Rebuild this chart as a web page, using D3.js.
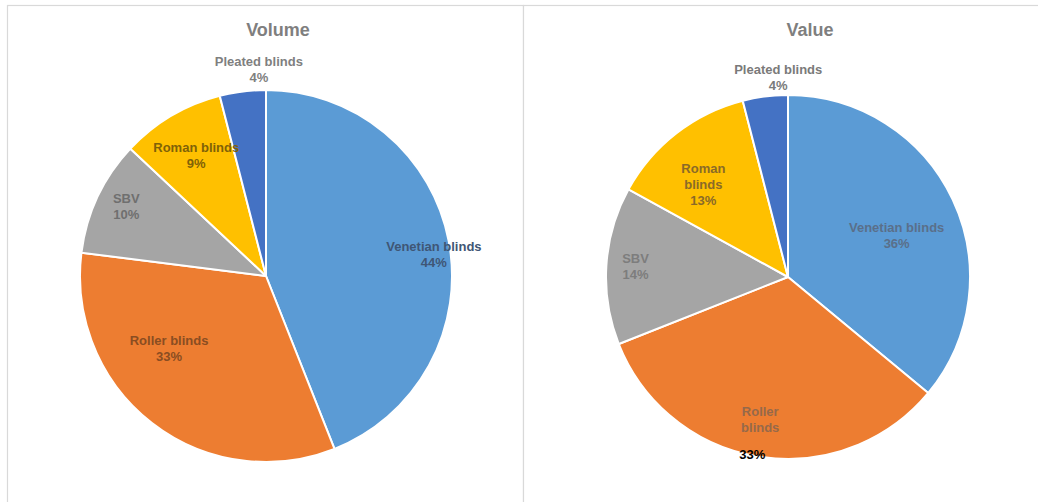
<!DOCTYPE html>
<html>
<head>
<meta charset="utf-8">
<script src="https://cdn.jsdelivr.net/npm/d3@7"></script>
<style>
  html, body { margin: 0; padding: 0; background: #ffffff; }
  svg { display: block; }
  text { font-family: "Liberation Sans", Arial, sans-serif; font-weight: bold; }
</style>
</head>
<body>
<svg id="chart" width="1038" height="502"></svg>
<script>
// Product categories (shared by both pies, in drawing order from 12 o'clock, clockwise)
const categories = ["Venetian blinds", "Roller blinds", "SBV", "Roman blinds", "Pleated blinds"];

// Market share by volume and by value, in percent
const volumeShares = [44, 33, 10, 9, 4];
const valueShares = [36, 33, 14, 13, 4];

// Chart titles
const titles = ["Volume", "Value"];

// Label text broken into lines, per chart
const volumeLabelLines = [["Venetian blinds"], ["Roller blinds"], ["SBV"], ["Roman blinds"], ["Pleated blinds"]];
const valueLabelLines = [["Venetian blinds"], ["Roller", "blinds"], ["SBV"], ["Roman", "blinds"], ["Pleated blinds"]];

// Slice fill colours
const sliceColors = ["#5b9bd5", "#ed7d31", "#a5a5a5", "#ffc000", "#4472c4"];

// ---- layout / styling ----
const svg = d3.select("#chart");
const W = 1038, H = 502;

const panels = [
  {
    x0: 7, x1: 523, title: titles[0], titleX: 278,
    cx: 266, cy: 276, r: 186,
    values: volumeShares, lines: volumeLabelLines,
    labelColors: ["#3f5675", "#8a4d22", "#6f6f6f", "#7f6208", "#7f7f7f"],
    // label anchor: radius fraction and angular nudge (degrees) from the slice middle
    labelPos: [[0.91, 3.5], [0.65, 15.5], [0.84, 1.4], [0.75, 0.6], [1.11, 5.2]],
    pctColor: null
  },
  {
    x0: 523, x1: 1045, title: titles[1], titleX: 810,
    cx: 788, cy: 277, r: 182,
    values: valueShares, lines: valueLabelLines,
    labelColors: ["#5a6f8a", "#96694a", "#7d7d7d", "#8a6a28", "#7a7a7a"],
    labelPos: [[0.64, 4.1], [0.80, 2.0], [0.84, 0.4], [0.69, -4.6], [1.10, 4.4]],
    pctColor: [null, "#000000", null, null, null]
  }
];

const lineH = 16;

panels.forEach((p, pi) => {
  const g = svg.append("g");

  // panel frame
  g.append("rect")
    .attr("x", p.x0 + 0.5).attr("y", 5.5)
    .attr("width", p.x1 - p.x0).attr("height", H + 10)
    .attr("fill", "#ffffff")
    .attr("stroke", "#d9d9d9").attr("stroke-width", 1.2);

  // title
  g.append("text")
    .attr("x", p.titleX).attr("y", 36)
    .attr("text-anchor", "middle")
    .attr("font-size", 18)
    .attr("fill", "#7f7f7f")
    .text(p.title);

  const data = categories.map((c, i) => ({ name: c, value: p.values[i], idx: i }));
  const pie = d3.pie().sort(null).value(d => d.value);
  const arcs = pie(data);
  const arc = d3.arc().innerRadius(0).outerRadius(p.r);

  const pg = g.append("g").attr("transform", `translate(${p.cx},${p.cy})`);

  pg.selectAll("path.slice")
    .data(arcs)
    .join("path")
    .attr("class", "slice")
    .attr("d", arc)
    .attr("fill", d => sliceColors[d.data.idx])
    .attr("stroke", "#ffffff")
    .attr("stroke-width", 2)
    .attr("stroke-linejoin", "round");

  // data labels
  arcs.forEach(a => {
    const i = a.data.idx;
    const [rf, nudge] = p.labelPos[i];
    const ang = (a.startAngle + a.endAngle) / 2 + nudge * Math.PI / 180;
    const lx = Math.sin(ang) * p.r * rf;
    const ly = -Math.cos(ang) * p.r * rf;
    const pct = a.data.value + "%";
    const special = p.pctColor && p.pctColor[i];
    const lines = special ? p.lines[i].slice() : p.lines[i].concat([pct]);
    const n = lines.length;
    const t = pg.append("text")
      .attr("text-anchor", "middle")
      .attr("font-size", 13)
      .attr("fill", p.labelColors[i]);
    lines.forEach((ln, k) => {
      t.append("tspan")
        .attr("x", lx)
        .attr("y", ly + (k - (n - 1) / 2) * lineH + 4.5)
        .text(ln);
    });
    if (special) {
      // percentage placed separately below the name, near the rim
      pg.append("text")
        .attr("x", lx - 8)
        .attr("y", ly + (n - 1) / 2 * lineH + 4.5 + 27)
        .attr("text-anchor", "middle")
        .attr("font-size", 13)
        .attr("fill", special)
        .text(pct);
    }
  });
});
</script>
</body>
</html>
